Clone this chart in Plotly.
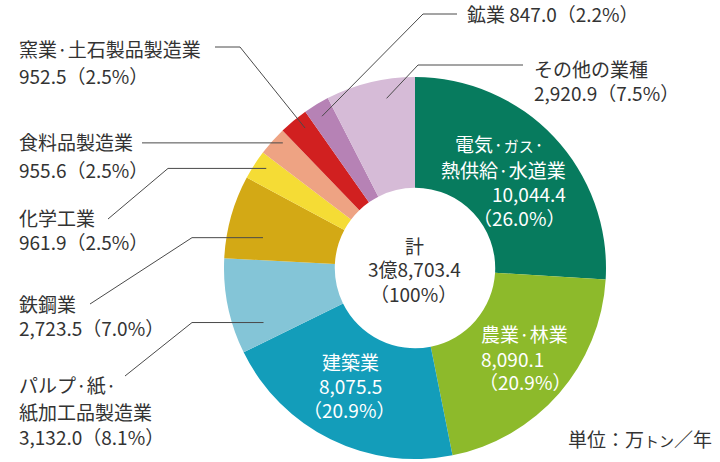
import math
import plotly.graph_objects as go

# ---- data ----
categories = ["電気・ガス・熱供給・水道業", "農業・林業", "建築業", "パルプ・紙・紙加工品製造業",
              "鉄鋼業", "化学工業", "食料品製造業", "窯業・土石製品製造業", "鉱業", "その他の業種"]
values = [10044.4, 8090.1, 8075.5, 3132.0, 2723.5, 961.9, 955.6, 952.5, 847.0, 2920.9]
percents = [26.0, 20.9, 20.9, 8.1, 7.0, 2.5, 2.5, 2.5, 2.2, 7.5]
total_label = "3億8,703.4"
colors = ["#077B5E", "#8DBA2B", "#139DBA", "#84C5D7", "#D3A915", "#F5DC35",
          "#EEA383", "#D12020", "#B682B5", "#D6BBD7"]

W, H = 720, 462
CX, CY, R = 415, 268, 191
HOLE = 0.42
FONT = "Noto Sans CJK JP"
DARK = "#333333"
LINE = "#4a4a4a"
FS = 19


def fmt(v):
    return f"{v:,.1f}"


def px(x):
    return x / W


def py(y):
    return 1 - y / H


fig = go.Figure(go.Pie(
    values=values, labels=categories, sort=False, direction="clockwise", rotation=0,
    hole=HOLE, textinfo="none", hoverinfo="label+value+percent",
    marker=dict(colors=colors, line=dict(width=0)),
    domain=dict(x=[px(CX - R), px(CX + R)], y=[py(CY + R), py(CY - R)]),
    showlegend=False,
))

# cumulative angles for leader-line anchors
tot = sum(values)
starts = []
acc = 0
for v in values:
    starts.append(acc)
    acc += v


def anchor(i, frac, rad):
    f = (starts[i] + values[i] * frac) / tot
    th = 2 * math.pi * f
    return CX + rad * math.sin(th), CY - rad * math.cos(th)


annotations = []


def text(x, y, s, anchor_x="left", color=DARK, size=FS):
    annotations.append(dict(x=px(x), y=py(y), xref="paper", yref="paper", text=s,
                            showarrow=False, xanchor=anchor_x, yanchor="middle",
                            font=dict(family=FONT, size=size, color=color)))


shapes = []


def path(points):
    d = "M " + " L ".join(f"{px(x)} {py(y)}" for x, y in points)
    shapes.append(dict(type="path", path=d, xref="paper", yref="paper",
                       line=dict(color=LINE, width=1)))


def lab(i):
    return f"{fmt(values[i])}（{percents[i]:.1f}%）"


# outside labels
text(17, 48, "窯業·土石製品製造業")
text(17, 76, lab(7))
ex, ey = anchor(7, 0.65, 178)
path([(215, 47), (240, 47), (ex, ey)])

text(17, 142, "食料品製造業")
text(17, 169, lab(6))
ex, ey = anchor(6, 0.7, 182)
path([(142, ey), (ex, ey)])

text(17, 217, "化学工業")
text(17, 241, lab(5))
ex, ey = anchor(5, 0.62, 179)
path([(108, 219), (168, ey), (ex, ey)])

text(17, 303, "鉄鋼業")
text(17, 327, lab(4))
ex, ey = anchor(4, 0.33, 155)
path([(90, 304), (192, ey), (ex, ey)])

text(17, 384, "パルプ·紙·")
text(17, 411, "紙加工品製造業")
text(17, 436, lab(3))
ex, ey = anchor(3, 0.22, 161)
path([(125, 376), (192, ey), (ex, ey)])

text(465, 14, "鉱業 " + lab(8))
ex, ey = anchor(8, 0.45, 178)
path([(457, 14), (423, 14), (ex, ey)])

text(532, 68, "その他の業種")
text(532, 92, lab(9))
ex, ey = anchor(9, 0.65, 172)
path([(523, 65), (418, 65), (ex, ey)])

# inside labels
W_ = "#ffffff"
text(499, 143, "電気·<span style='font-size:15px'>ガス</span>·", "center", W_)
text(568, 169, "熱供給·水道業", "right", W_)
text(568, 193, fmt(values[0]), "right", W_)
text(567, 217, f"（{percents[0]:.1f}%）", "right", W_)

text(479, 333, "農業·林業", "left", W_)
text(479, 358, fmt(values[1]), "left", W_)
text(477, 381, f"（{percents[1]:.1f}%）", "left", W_)

text(350, 361, "建築業", "center", W_)
text(350, 385, fmt(values[2]), "center", W_)
text(349, 409, f"（{percents[2]:.1f}%）", "center", W_)

text(415, 245, "計", "center")
text(415, 268, total_label, "center")
text(414, 293, "（100%）", "center")

text(566, 438, "単位：万<span style='font-size:15px'>トン</span>／年", "left")

fig.update_layout(
    width=W, height=H, margin=dict(l=0, r=0, t=0, b=0),
    paper_bgcolor="white", plot_bgcolor="white",
    annotations=annotations, shapes=shapes,
    font=dict(family=FONT, color=DARK),
)

fig.write_html("out.html", config={"displayModeBar": False},
               post_script="document.body.style.margin='0';")
